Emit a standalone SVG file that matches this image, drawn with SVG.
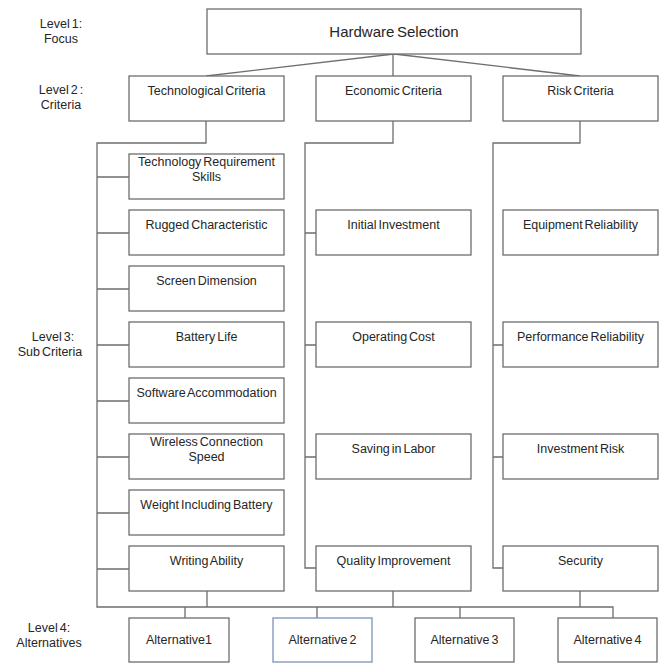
<svg xmlns="http://www.w3.org/2000/svg" width="661" height="664" viewBox="0 0 661 664">
<style>
.b{fill:#fff;stroke:#6e6e6e;stroke-width:1.3}
.b2{fill:#fff;stroke:#7b93b8;stroke-width:1.3}
.c{fill:none;stroke:#6e6e6e;stroke-width:1.3}
text{font-family:"Liberation Sans",Arial,sans-serif;font-size:12.5px;fill:#262626;text-anchor:middle;word-spacing:-1.5px}
.t{font-size:15px}
</style>
<rect width="661" height="664" fill="#fff"/>
<g id="levels">
<text x="61" y="28">Level 1:</text><text x="61" y="43">Focus</text>
<text x="61" y="94">Level 2 :</text><text x="61" y="109">Criteria</text>
<text x="53" y="341">Level 3:</text><text x="50" y="356">Sub Criteria</text>
<text x="49" y="632">Level 4:</text><text x="49" y="647">Alternatives</text>
</g>
<g id="connectors">
<path class="c" d="M394,54 L206,76 M393,54 V76 M394,54 L580,76"/>
<path class="c" d="M206,121 V143 H97 V607 H613 V618"/>
<path class="c" d="M97,177 H129 M97,233 H129 M97,289 H129 M97,345 H129 M97,401 H129 M97,457 H129 M97,513 H129 M97,569 H129"/>
<path class="c" d="M207,591 V607 M393,591 V607 M580,591 V607 M185,607 V618 M317,607 V618 M460,607 V618"/>
<path class="c" d="M393,121 V143 H305 V568 H316 M305,233 H316 M305,345 H316 M305,457 H316"/>
<path class="c" d="M580,121 V143 H493 V568 H503 M493,345 H503 M493,457 H503"/>
</g>
<g id="hardware-selection"><rect class="b" x="207" y="9" width="374" height="45"/><text class="t" x="394" y="37">Hardware Selection</text></g>
<g id="technological-criteria"><rect class="b" x="129" y="76" width="155" height="45"/><text x="206.5" y="95">Technological Criteria</text></g>
<g id="economic-criteria"><rect class="b" x="316" y="76" width="155" height="45"/><text x="393.5" y="95">Economic Criteria</text></g>
<g id="risk-criteria"><rect class="b" x="503" y="76" width="155" height="45"/><text x="580.5" y="95">Risk Criteria</text></g>
<g id="tech-req-skills"><rect class="b" x="129" y="154" width="155" height="45"/><text x="206.5" y="166">Technology Requirement</text><text x="206.5" y="181">Skills</text></g>
<g id="rugged"><rect class="b" x="129" y="210" width="155" height="45"/><text x="206.5" y="229">Rugged Characteristic</text></g>
<g id="screen"><rect class="b" x="129" y="266" width="155" height="45"/><text x="206.5" y="285">Screen Dimension</text></g>
<g id="battery"><rect class="b" x="129" y="322" width="155" height="45"/><text x="206.5" y="341">Battery Life</text></g>
<g id="software"><rect class="b" x="129" y="378" width="155" height="45"/><text x="206.5" y="397">Software Accommodation</text></g>
<g id="wireless"><rect class="b" x="129" y="434" width="155" height="45"/><text x="206.5" y="446">Wireless Connection</text><text x="206.5" y="461">Speed</text></g>
<g id="weight"><rect class="b" x="129" y="490" width="155" height="45"/><text x="206.5" y="509">Weight Including Battery</text></g>
<g id="writing"><rect class="b" x="129" y="546" width="155" height="45"/><text x="206.5" y="565">Writing Ability</text></g>
<g id="initial-investment"><rect class="b" x="316" y="210" width="155" height="45"/><text x="393.5" y="229">Initial Investment</text></g>
<g id="operating-cost"><rect class="b" x="316" y="322" width="155" height="45"/><text x="393.5" y="341">Operating Cost</text></g>
<g id="saving-labor"><rect class="b" x="316" y="434" width="155" height="45"/><text x="393.5" y="453">Saving in Labor</text></g>
<g id="quality"><rect class="b" x="316" y="546" width="155" height="45"/><text x="393.5" y="565">Quality Improvement</text></g>
<g id="equipment-reliability"><rect class="b" x="503" y="210" width="155" height="45"/><text x="580.5" y="229">Equipment Reliability</text></g>
<g id="performance-reliability"><rect class="b" x="503" y="322" width="155" height="45"/><text x="580.5" y="341">Performance Reliability</text></g>
<g id="investment-risk"><rect class="b" x="503" y="434" width="155" height="45"/><text x="580.5" y="453">Investment Risk</text></g>
<g id="security"><rect class="b" x="503" y="546" width="155" height="45"/><text x="580.5" y="565">Security</text></g>
<g id="alt1"><rect class="b" x="129" y="618" width="100" height="44"/><text x="179" y="644">Alternative1</text></g>
<g id="alt2"><rect class="b2" x="273" y="618" width="99" height="44"/><text x="322.5" y="644">Alternative 2</text></g>
<g id="alt3"><rect class="b" x="415" y="618" width="99" height="44"/><text x="464.5" y="644">Alternative 3</text></g>
<g id="alt4"><rect class="b" x="558" y="618" width="99" height="44"/><text x="607.5" y="644">Alternative 4</text></g>
</svg>
